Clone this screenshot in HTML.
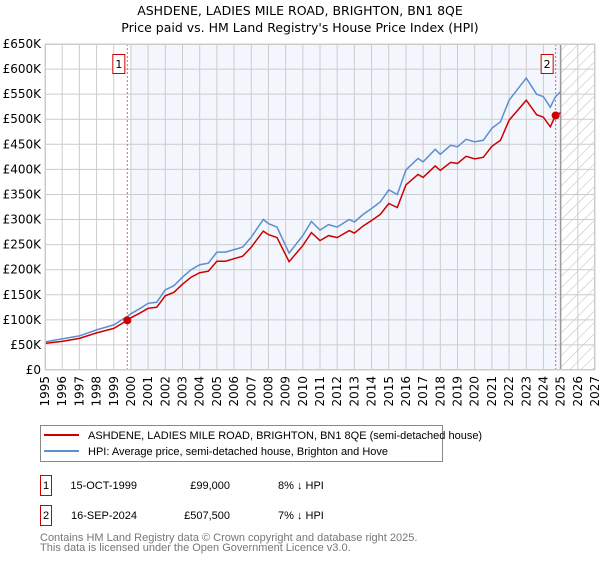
<!DOCTYPE html>
<html><head><meta charset="utf-8">
<style>
body{margin:0;background:#fff;font-family:"DejaVu Sans","Liberation Sans",sans-serif;}
svg text{font-family:"DejaVu Sans","Liberation Sans",sans-serif;}
svg text.lib{font-family:"Liberation Sans",sans-serif;}
</style></head>
<body>
<svg id="chart" width="600" height="560" viewBox="0 0 600 560" xmlns="http://www.w3.org/2000/svg">
<defs>
<pattern id="hatch" width="8" height="8" patternUnits="userSpaceOnUse" patternTransform="rotate(45)">
<line x1="0" y1="0" x2="0" y2="8" stroke="#bbb" stroke-width="1"/>
</pattern>
</defs>
<text x="300" y="15" text-anchor="middle" font-size="12.5" fill="#000">ASHDENE, LADIES MILE ROAD, BRIGHTON, BN1 8QE</text>
<text x="300" y="32" text-anchor="middle" font-size="12.5" fill="#000">Price paid vs. HM Land Registry's House Price Index (HPI)</text>
<g id="plot"></g>
<g>
<rect x="40.5" y="425.5" width="402" height="36" fill="#fff" stroke="#888"/>
<line x1="44" y1="435" x2="79" y2="435" stroke="#cc0000" stroke-width="2"/>
<text class="lib" x="88" y="439" font-size="11">ASHDENE, LADIES MILE ROAD, BRIGHTON, BN1 8QE (semi-detached house)</text>
<line x1="44" y1="451" x2="79" y2="451" stroke="#5b8fd0" stroke-width="2"/>
<text class="lib" x="88" y="455" font-size="11">HPI: Average price, semi-detached house, Brighton and Hove</text>
</g>
<g>
<rect x="40.5" y="475.5" width="11" height="20" fill="#fff" stroke="#cc0000"/>
<text class="lib" x="46" y="489" text-anchor="middle" font-size="11">1</text>
<text class="lib" x="137" y="489" text-anchor="end" font-size="11">15-OCT-1999</text>
<text class="lib" x="230" y="489" text-anchor="end" font-size="11">£99,000</text>
<text class="lib" x="278" y="489" font-size="11">8% ↓ HPI</text>
<rect x="40.5" y="505.5" width="11" height="20" fill="#fff" stroke="#cc0000"/>
<text class="lib" x="46" y="519" text-anchor="middle" font-size="11">2</text>
<text class="lib" x="137" y="519" text-anchor="end" font-size="11">16-SEP-2024</text>
<text class="lib" x="230" y="519" text-anchor="end" font-size="11">£507,500</text>
<text class="lib" x="278" y="519" font-size="11">7% ↓ HPI</text>
</g>
<text class="lib" x="40" y="541" font-size="11" fill="#777">Contains HM Land Registry data © Crown copyright and database right 2025.</text>
<text class="lib" x="40" y="551" font-size="11" fill="#777">This data is licensed under the Open Government Licence v3.0.</text>
</svg>
<script>
const hpiYears = [1995,1996,1997,1998,1999,1999.8,2000,2000.5,2001,2001.5,2002,2002.5,2003,2003.5,2004,2004.5,2005,2005.5,2006,2006.5,2007,2007.7,2008,2008.5,2009.2,2010,2010.5,2011,2011.5,2012,2012.7,2013,2013.5,2014,2014.5,2015,2015.5,2016,2016.7,2017,2017.7,2018,2018.6,2019,2019.5,2020,2020.5,2021,2021.5,2022,2022.5,2023,2023.6,2024,2024.4,2024.7,2025];
const hpiValues = [56,62,68,80,90,107,112,122,133,135,160,168,185,200,210,213,235,235,240,245,265,300,292,285,233,268,296,279,290,285,300,295,310,322,335,359,350,399,422,415,440,430,448,445,460,455,458,482,495,538,560,582,550,545,524,545,555];
const propValues = [53,57,63,74,83,99,104,113,123,125,148,155,171,185,194,197,217,217,222,227,245,277,270,264,216,248,274,258,268,264,278,273,287,298,310,332,324,369,390,384,407,398,414,412,426,421,424,446,458,498,518,538,509,504,485,507.5,513];
const sales = [{n:'1',year:1999.79,value:99},{n:'2',year:2024.71,value:507.5}];
const yTicks = [0,50,100,150,200,250,300,350,400,450,500,550,600,650];
const yTickLabels = ['£0','£50K','£100K','£150K','£200K','£250K','£300K','£350K','£400K','£450K','£500K','£550K','£600K','£650K'];
const xTicks = [1995,1996,1997,1998,1999,2000,2001,2002,2003,2004,2005,2006,2007,2008,2009,2010,2011,2012,2013,2014,2015,2016,2017,2018,2019,2020,2021,2022,2023,2024,2025,2026,2027];

const NS='http://www.w3.org/2000/svg';
const X0=45,X1=595,Y0=370,Y1=44;
const xs=y=>X0+(y-1995)/(2027-1995)*(X1-X0);
const ys=v=>Y0-v/650*(Y0-Y1);
const g=document.getElementById('plot');
function mk(t,a){const e=document.createElementNS(NS,t);for(const k in a)e.setAttribute(k,a[k]);g.appendChild(e);return e;}

let e=mk('rect',{x:X0,y:Y1,width:X1-X0,height:Y0-Y1,fill:'#fff'});


e=mk('rect',{x:xs(2000),y:Y1,width:xs(2025)-xs(2000),height:Y0-Y1,fill:'#f3f6fd'});


e=mk('rect',{x:xs(2025),y:Y1,width:X1-xs(2025),height:Y0-Y1,fill:'url(#hatch)'});



yTicks.forEach((v,i)=>{
  const l=mk('line',{x1:X0,x2:X1,y1:ys(v),y2:ys(v),stroke:'#ccc','stroke-width':1});
  
  
  const t=mk('text',{x:X0-4,y:ys(v)+4,'text-anchor':'end','font-size':12});
  
  
  t.textContent=yTickLabels[i];
});
xTicks.forEach(y=>{
  const l=mk('line',{x1:xs(y),x2:xs(y),y1:Y1,y2:Y0,stroke:'#ccc','stroke-width':1});
  
  
  const t=mk('text',{transform:`translate(${xs(y)+4},${Y0+6}) rotate(-90)`,'text-anchor':'end','font-size':12});
  
  
  t.textContent=y;
});
e=mk('line',{x1:xs(2025),x2:xs(2025),y1:Y1,y2:Y0,stroke:'#999','stroke-width':1.5});



sales.forEach(s=>{
  const l=mk('line',{x1:xs(s.year),x2:xs(s.year),y1:Y1,y2:Y0,stroke:'#f06060','stroke-dasharray':'2,2','stroke-width':1});
  
  
});

const pts=vals=>hpiYears.map((y,i)=>xs(y).toFixed(1)+','+ys(vals[i]).toFixed(1)).join(' ');
e=mk('polyline',{points:pts(hpiValues),fill:'none',stroke:'#5b8fd0','stroke-width':1.5});


e=mk('polyline',{points:pts(propValues),fill:'none',stroke:'#cc0000','stroke-width':1.5});



sales.forEach(s=>{
  const c=mk('circle',{cx:xs(s.year),cy:ys(s.value),r:4,fill:'#cc0000'});
  
  
  const bx=xs(s.year)-15;
  const r=mk('rect',{x:bx+0.5,y:54.5,width:12,height:19,fill:'#fff',stroke:'#cc0000'});
  
  
  const t=mk('text',{x:bx+6.5,y:68,'text-anchor':'middle','font-size':11});
  
  
  t.textContent=s.n;
});
e=mk('rect',{x:X0+0.5,y:Y1+0.5,width:X1-X0-1,height:Y0-Y1-1,fill:'none',stroke:'#ccc'});


</script>
</body></html>
